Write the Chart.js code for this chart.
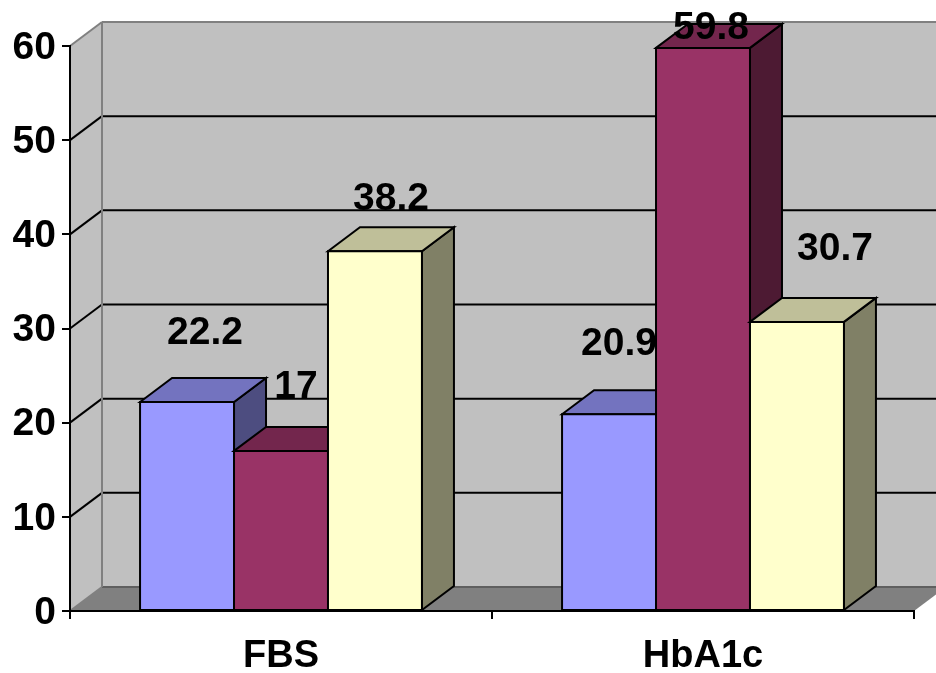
<!DOCTYPE html>
<html>
<head>
<meta charset="utf-8">
<title>FBS and HbA1c</title>
<script src="https://cdn.jsdelivr.net/npm/chart.js@4"></script>
<style>
  html, body { margin: 0; padding: 0; background: #fff; overflow: hidden; }
  canvas { display: block; }
</style>
</head>
<body>
<canvas id="chart" width="936" height="673"></canvas>
<script>
const categories = ["FBS", "HbA1c"];
const seriesBlue = [22.2, 20.9];
const seriesRed = [17, 59.8];
const seriesYellow = [38.2, 30.7];

const fontFamily = "'Liberation Sans', Arial, sans-serif";
const depthX = 32, depthY = 24;

// label nudges per dataset/category, these were placed by hand in the original
const labelNudges = [
  [[18, -71], [10, -72]],
  [[15, -66], [8, -22]],
  [[16, -54], [38, -75]]
];

// front, top, side colours of each series
const faces = [
  ["#9999FF", "#7373BF", "#4D4D80"],
  ["#993366", "#73264D", "#4D1A33"],
  ["#FFFFCC", "#BFBF99", "#808066"]
];

function poly(ctx, points, fill, stroke, width) {
  ctx.beginPath();
  points.forEach((p, i) => i ? ctx.lineTo(p[0], p[1]) : ctx.moveTo(p[0], p[1]));
  ctx.closePath();
  if (fill) { ctx.fillStyle = fill; ctx.fill(); }
  if (stroke) { ctx.strokeStyle = stroke; ctx.lineWidth = width; ctx.stroke(); }
}

function line(ctx, x1, y1, x2, y2, color, width) {
  ctx.beginPath();
  ctx.moveTo(x1, y1);
  ctx.lineTo(x2, y2);
  ctx.strokeStyle = color;
  ctx.lineWidth = width;
  ctx.stroke();
}

const walls = {
  id: "walls",
  afterLayout(chart) {
    // liberation digits sit a bit high on "middle", push the y labels down
    chart.scales.y.getLabelItems().forEach(item => { item.options.translation[1] += 2; });
  },
  beforeDraw(chart) {
    const ctx = chart.ctx, a = chart.chartArea, y = chart.scales.y;
    const grey = "#808080";
    const bx = a.left + depthX;
    const farRight = a.right + depthX;

    poly(ctx, [[bx, a.top - depthY], [farRight, a.top - depthY], [farRight, a.bottom - depthY], [bx, a.bottom - depthY]], "#C0C0C0");
    poly(ctx, [[a.left, a.top], [bx, a.top - depthY], [bx, a.bottom - depthY], [a.left, a.bottom]], "#C0C0C0");
    poly(ctx, [[a.left, a.bottom], [bx, a.bottom - depthY], [farRight, a.bottom - depthY], [a.right, a.bottom]], grey);

    y.ticks.forEach(t => {
      const py = y.getPixelForValue(t.value);
      const edge = t.value === 0 || t.value === y.max;
      const col = edge ? (t.value === 0 ? "#5f5f5f" : grey) : "#000";
      line(ctx, a.left, py, bx, py - depthY, edge ? grey : "#000", 2);
      line(ctx, bx, py - depthY, farRight, py - depthY, col, 2);
    });
    line(ctx, bx, a.top - depthY, bx, a.bottom - depthY, grey, 2);
  }
};

const bars3d = {
  id: "bars3d",
  // chart.js paints the last dataset first, here the first one has to go at the back
  beforeDatasetDraw() {
    return false;
  },
  afterDatasetsDraw(chart) {
    const ctx = chart.ctx;
    chart.data.datasets.forEach((ds, i) => {
      const colors = faces[i];
      chart.getDatasetMeta(i).data.forEach(bar => {
        const left = bar.x - bar.width / 2, right = bar.x + bar.width / 2;
        poly(ctx, [[right, bar.y], [right + depthX, bar.y - depthY], [right + depthX, bar.base - depthY], [right, bar.base]], colors[2], "#000", 2);
        poly(ctx, [[left, bar.y], [left + depthX, bar.y - depthY], [right + depthX, bar.y - depthY], [right, bar.y]], colors[1], "#000", 2);
        bar.draw(ctx);
        // outline on the edge itself, the bar's own border is inset and doubles up between bars
        poly(ctx, [[left, bar.y], [right, bar.y], [right, bar.base], [left, bar.base]], null, "#000", 2);
      });
    });

    ctx.save();
    ctx.font = "bold 39px " + fontFamily;
    ctx.fillStyle = "#000";
    ctx.textAlign = "center";
    ctx.textBaseline = "middle";
    chart.data.datasets.forEach((ds, i) => {
      chart.getDatasetMeta(i).data.forEach((bar, j) => {
        const nudge = labelNudges[i][j];
        ctx.fillText(String(ds.data[j]), bar.x + nudge[0], bar.y + nudge[1] + 2);
      });
    });
    ctx.restore();
  }
};

new Chart(document.getElementById("chart").getContext("2d"), {
  type: "bar",
  data: {
    labels: categories,
    datasets: [seriesBlue, seriesRed, seriesYellow].map((values, i) => ({
      data: values,
      backgroundColor: faces[i][0],
      borderWidth: 0,
      categoryPercentage: 0.668,
      barPercentage: 1
    }))
  },
  options: {
    responsive: false,
    animation: false,
    layout: { padding: { top: 46, right: 22, left: 0, bottom: 0 } },
    plugins: { legend: { display: false }, tooltip: { enabled: false } },
    scales: {
      x: {
        afterFit: scale => { scale.height = 62; },
        grid: { drawOnChartArea: false, color: "#000", lineWidth: 2, tickLength: 8, offset: true },
        border: { color: "#000", width: 2 },
        ticks: { color: "#000", padding: 15, maxRotation: 0, font: { family: fontFamily, size: 38, weight: "bold" } }
      },
      y: {
        min: 0,
        max: 60,
        afterFit: scale => { scale.width = 70; },
        grid: { drawOnChartArea: false, color: "#000", lineWidth: 2, tickLength: 8 },
        border: { color: "#000", width: 2 },
        ticks: { stepSize: 10, color: "#000", padding: 6, font: { family: fontFamily, size: 39, weight: "bold" } }
      }
    }
  },
  plugins: [walls, bars3d]
});
</script>
</body>
</html>
